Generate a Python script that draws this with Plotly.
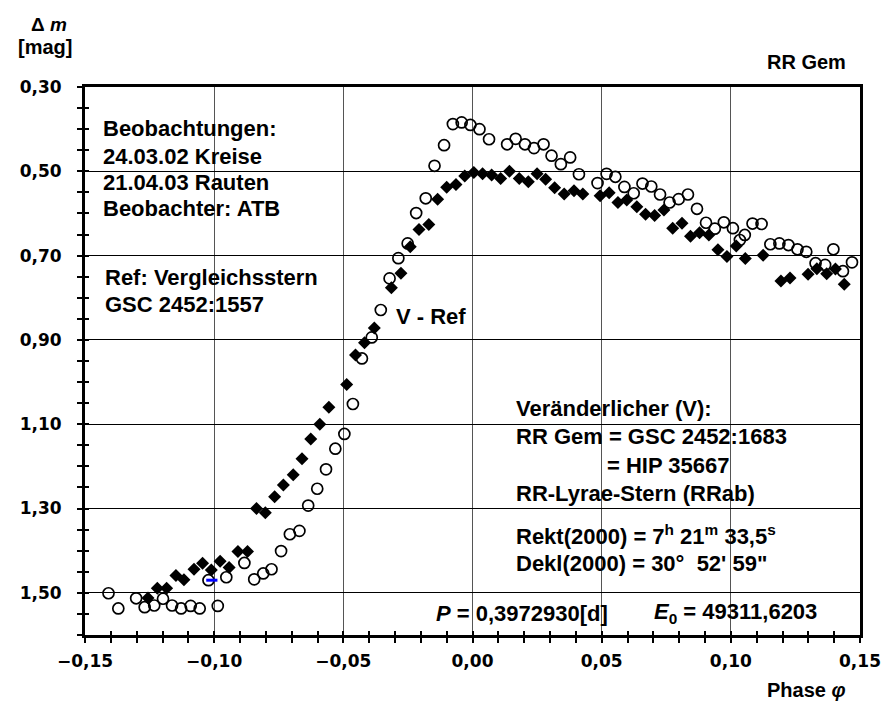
import plotly.graph_objects as go

# --- data: 24.03.02 (circles) ---
circ_phase = [-0.1409, -0.1371, -0.1302, -0.1269, -0.1232, -0.1198, -0.1163, -0.1128, -0.1091, -0.1056,
              -0.1022, -0.0986, -0.0953, -0.0883, -0.0845, -0.0810, -0.0778, -0.0741, -0.0707, -0.0670,
              -0.0636, -0.0601, -0.0567, -0.0531, -0.0496, -0.0463, -0.0428, -0.0390, -0.0355, -0.0321,
              -0.0287, -0.0251, -0.0218, -0.0181, -0.0147, -0.0110, -0.0076, -0.0042, -0.0008, 0.0027,
              0.0064, 0.0134, 0.0167, 0.0203, 0.0238, 0.0275, 0.0306, 0.0342, 0.0378, 0.0412,
              0.0484, 0.0519, 0.0553, 0.0588, 0.0624, 0.0658, 0.0692, 0.0726, 0.0763, 0.0798,
              0.0834, 0.0869, 0.0904, 0.0938, 0.0973, 0.1008, 0.1035, 0.1054, 0.1084, 0.1119,
              0.1153, 0.1188, 0.1223, 0.1258, 0.1292, 0.1328, 0.1365, 0.1397, 0.1434, 0.1469]
circ_mag = [1.501, 1.537, 1.513, 1.534, 1.530, 1.514, 1.530, 1.537, 1.531, 1.537,
            1.470, 1.531, 1.463, 1.429, 1.468, 1.454, 1.444, 1.401, 1.361, 1.353,
            1.293, 1.253, 1.207, 1.158, 1.123, 1.052, 0.944, 0.894, 0.829, 0.754,
            0.706, 0.671, 0.599, 0.564, 0.487, 0.438, 0.388, 0.384, 0.390, 0.400,
            0.424, 0.436, 0.423, 0.436, 0.445, 0.436, 0.463, 0.483, 0.467, 0.507,
            0.528, 0.506, 0.513, 0.537, 0.552, 0.529, 0.536, 0.555, 0.574, 0.566,
            0.555, 0.589, 0.622, 0.636, 0.621, 0.635, 0.663, 0.651, 0.624, 0.625,
            0.673, 0.671, 0.675, 0.685, 0.691, 0.718, 0.722, 0.685, 0.737, 0.716]

# --- data: 21.04.03 (diamonds) ---
diam_phase = [-0.1256, -0.1220, -0.1184, -0.1148, -0.1117, -0.1078, -0.1045, -0.1011, -0.0977, -0.0942,
              -0.0908, -0.0871, -0.0836, -0.0802, -0.0766, -0.0732, -0.0694, -0.0660, -0.0626, -0.0591,
              -0.0556, -0.0487, -0.0453, -0.0418, -0.0380, -0.0314, -0.0277, -0.0241, -0.0207, -0.0169,
              -0.0135, -0.0100, -0.0064, -0.0030, 0.0005, 0.0039, 0.0074, 0.0109, 0.0143, 0.0181,
              0.0216, 0.0250, 0.0283, 0.0318, 0.0355, 0.0393, 0.0427, 0.0494, 0.0529, 0.0563,
              0.0597, 0.0636, 0.0670, 0.0705, 0.0741, 0.0775, 0.0811, 0.0844, 0.0879, 0.0915,
              0.0950, 0.0985, 0.1021, 0.1056, 0.1125, 0.1194, 0.1229, 0.1299, 0.1333, 0.1371,
              0.1405, 0.1439]
diam_mag = [1.512, 1.489, 1.489, 1.459, 1.469, 1.444, 1.430, 1.446, 1.425, 1.440,
            1.402, 1.402, 1.300, 1.310, 1.272, 1.244, 1.220, 1.182, 1.135, 1.100,
            1.060, 1.006, 0.936, 0.907, 0.872, 0.776, 0.742, 0.679, 0.638, 0.626,
            0.566, 0.538, 0.531, 0.511, 0.503, 0.506, 0.509, 0.517, 0.500, 0.517,
            0.525, 0.506, 0.519, 0.539, 0.554, 0.546, 0.554, 0.558, 0.551, 0.574,
            0.568, 0.584, 0.602, 0.605, 0.592, 0.635, 0.623, 0.654, 0.646, 0.651,
            0.686, 0.702, 0.677, 0.707, 0.699, 0.760, 0.753, 0.744, 0.731, 0.743,
            0.732, 0.768]

blue_phase = [-0.1009]
blue_mag = [1.470]

x_range = [-0.15, 0.15]
y_range = [1.60, 0.30]

FONT = "Liberation Sans, Arial, sans-serif"
TICKFONT = "DejaVu Sans, Liberation Sans, sans-serif"
OFF = 8                      # page body margin
W, H = 893 - OFF, 702 - OFF  # figure size
L, R, T, B = 77, 869, 87, 635  # plot area in page pixels

fig = go.Figure()
fig.add_trace(go.Scatter(x=circ_phase, y=circ_mag, mode="markers", name="24.03.02",
                         marker=dict(symbol="circle-open", size=11, color="black",
                                     line=dict(width=1.7, color="black"))))
fig.add_trace(go.Scatter(x=diam_phase, y=diam_mag, mode="markers", name="21.04.03",
                         marker=dict(symbol="diamond", size=10, color="black",
                                     line=dict(width=0))))
fig.add_trace(go.Scatter(x=blue_phase, y=blue_mag, mode="markers", name="blue",
                         marker=dict(symbol="line-ew", size=8, color="blue",
                                     line=dict(width=3, color="blue"))))


def px(xp, yp):
    return (xp - L) / (R - L), (B - yp) / (B - T)


anns = []


def txt(s, xp, yp, anchor="left", size=22):
    x, y = px(xp, yp)
    anns.append(dict(text=s, x=x, y=y, xref="paper", yref="paper", xanchor=anchor,
                     yanchor="middle", showarrow=False,
                     font=dict(family=FONT, size=size, color="black")))


S = 22
txt("<b>Beobachtungen:</b>", 93, 129, size=S)
txt("<b>24.03.02 Kreise</b>", 93, 156, size=S)
txt("<b>21.04.03 Rauten</b>", 93, 182, size=S)
txt("<b>Beobachter: ATB</b>", 93, 208, size=S)
txt("<b>Ref: Vergleichsstern</b>", 95, 277, size=S)
txt("<b>GSC 2452:1557</b>", 95, 304, size=S)
txt("<b>V - Ref</b>", 393, 316, size=S)
txt("<b>Veränderlicher (V):</b>", 515, 408, size=S)
txt("<b>RR Gem = GSC 2452:1683</b>", 515, 437, size=S)
txt("<b>= HIP 35667</b>", 608, 465, size=S)
txt("<b>RR-Lyrae-Stern (RRab)</b>", 515, 493, size=S)
txt("<b>Rekt(2000) = 7<sup>h</sup> 21<sup>m</sup> 33,5<sup>s</sup></b>", 515, 535, size=S)
txt("<b>Dekl(2000) = 30°  52' 59\"</b>", 515, 563, size=S)
txt("<b><i>P</i> = 0,3972930[d]</b>", 614, 613, anchor="right", size=S)
txt("<b><i>E</i><sub>0</sub> = 49311,6203</b>", 656, 613, size=S)
txt("<b>Δ <i>m</i></b>", 20, 24, size=19)
txt("<b>[mag]</b>", 6, 47, size=20)
txt("<b>RR Gem</b>", 857, 62, anchor="right", size=20)
txt("<b>Phase <i>φ</i></b>", 857, 690, anchor="right", size=20)

axis_common = dict(showline=True, linecolor="black", linewidth=3, mirror=True,
                   zeroline=False, tickcolor="black", tickwidth=2,
                   tickfont=dict(family=TICKFONT, size=17, color="black"))

fig.update_layout(
    width=W, height=H,
    margin=dict(l=L - OFF, r=W - (R - OFF), t=T - OFF, b=H - (B - OFF), pad=0),
    paper_bgcolor="white", plot_bgcolor="white",
    separators=",.",
    showlegend=False,
    font=dict(family=FONT, color="black"),
    annotations=anns,
    xaxis=dict(range=x_range, tick0=0, dtick=0.05, tickformat=".2f",
               showgrid=True, gridcolor="#555555", gridwidth=1,
               ticks="outside", ticklen=5,
               minor=dict(dtick=0.01, ticks="outside", ticklen=5, tickcolor="black",
                          tickwidth=2, showgrid=False),
               ticklabelstandoff=4,
               tickprefix="<b>", ticksuffix="</b>",
               **axis_common),
    yaxis=dict(range=y_range, tick0=0.3, dtick=0.2, tickformat=".2f",
               showgrid=True, gridcolor="black", gridwidth=1,
               ticks="outside", ticklen=5,
               minor=dict(dtick=0.05, tick0=0.3, ticks="outside", ticklen=5, tickcolor="black",
                          tickwidth=2, showgrid=False),
               ticklabelstandoff=12,
               tickprefix="<b>", ticksuffix="</b>",
               **axis_common),
    xaxis2=dict(range=x_range, overlaying="x", side="bottom", showgrid=False, zeroline=False,
                tick0=0, dtick=0.05, ticks="inside", ticklen=4, tickwidth=2, tickcolor="black",
                showticklabels=False, showline=False,
                minor=dict(dtick=0.01, ticks="inside", ticklen=4, tickwidth=2, tickcolor="black")),
    yaxis2=dict(range=y_range, overlaying="y", side="left", showgrid=False, zeroline=False,
                tick0=0.3, dtick=0.2, ticks="inside", ticklen=4, tickwidth=2, tickcolor="black",
                showticklabels=False, showline=False,
                minor=dict(dtick=0.05, tick0=0.3, ticks="inside", ticklen=4, tickwidth=2,
                           tickcolor="black")),
)
# invisible trace to activate the overlay axes
fig.add_trace(go.Scatter(x=[None], y=[None], xaxis="x2", yaxis="y2", showlegend=False,
                         hoverinfo="skip"))

fig.write_html("out.html")
